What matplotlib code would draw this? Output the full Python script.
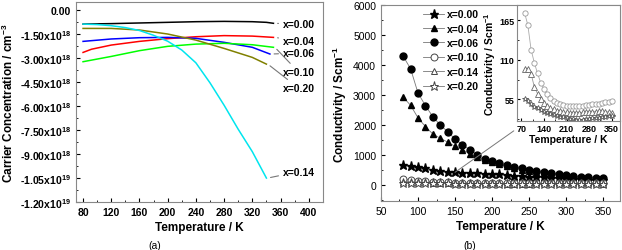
import numpy as np
import matplotlib
matplotlib.use('Agg')
import matplotlib.pyplot as plt
from matplotlib.ticker import MultipleLocator, FuncFormatter
from matplotlib.patches import ConnectionPatch

plt.rcParams['font.family'] = ['Liberation Sans', 'DejaVu Sans']
plt.rcParams['mathtext.fontset'] = 'custom'
plt.rcParams['mathtext.rm'] = 'Liberation Sans'
plt.rcParams['mathtext.bf'] = 'Liberation Sans:bold'
plt.rcParams['mathtext.default'] = 'bf'

""" (a) carrier concentration, units of 1e18 cm^-3 """
T_000 = [80, 120, 160, 200, 240, 280, 320, 340, 350]
n_000 = [-0.88, -0.85, -0.81, -0.77, -0.73, -0.71, -0.73, -0.77, -0.83]
T_004 = [80, 92, 120, 160, 200, 240, 280, 320, 350]
n_004 = [-2.65, -2.45, -2.19, -1.96, -1.79, -1.67, -1.60, -1.63, -1.71]
T_006 = [80, 120, 160, 200, 240, 280, 320, 345]
n_006 = [-1.96, -1.81, -1.73, -1.71, -1.77, -2.02, -2.33, -2.75]
T_010 = [80, 120, 160, 200, 240, 280, 320, 350]
n_010 = [-3.23, -2.90, -2.54, -2.27, -2.13, -2.08, -2.17, -2.33]
T_020 = [80, 120, 160, 200, 240, 280, 320, 340]
n_020 = [-1.15, -1.15, -1.25, -1.50, -1.88, -2.40, -2.96, -3.38]
T_014 = [80, 100, 120, 140, 160, 180, 200, 220, 240, 260, 280, 300, 320, 340]
n_014 = [-0.88, -0.91, -0.98, -1.10, -1.28, -1.58, -1.95, -2.50, -3.30, -4.55,
         -5.95, -7.45, -8.85, -10.50]

curves_a = [
    ('x=0.00', T_000, n_000, 'black', -0.88),
    ('x=0.04', T_004, n_004, '#ff0000', -1.94),
    ('x=0.06', T_006, n_006, '#0000ff', -2.69),
    ('x=0.10', T_010, n_010, '#00ff00', -3.88),
    ('x=0.20', T_020, n_020, '#808000', -4.88),
    ('x=0.14', T_014, n_014, '#00e5ee', -10.1),
]

""" (b) conductivity, S/cm """
T_b = list(range(80, 351, 10))
s_000 = [650, 610, 575, 540, 490, 450, 430, 410, 400, 390, 380, 370, 360, 340,
         320, 300, 290, 270, 260, 250, 230, 220, 210, 190, 180, 170, 160, 150]
s_004 = [2920, 2650, 2230, 1940, 1690, 1550, 1420, 1280, 1170, 1030, 920, 830, 740, 680,
         610, 550, 500, 460, 420, 380, 345, 320, 295, 265, 240, 220, 200, 185]
s_006 = [4290, 3870, 3060, 2640, 2270, 1990, 1770, 1520, 1330, 1165, 1000, 860, 780, 715,
         655, 580, 545, 500, 470, 415, 380, 355, 325, 300, 270, 250, 225, 215]
s_010 = [175, 158, 124, 106, 91, 78, 70, 63, 57, 53, 50, 48, 47, 46,
         46, 46, 46, 46, 46.5, 47, 47.5, 48, 48.5, 49, 50, 51, 52, 53]
s_014 = [97.6, 97.6, 90.7, 72.4, 63, 56, 50.4, 46, 43, 41, 39.5, 38.5, 37.5, 37,
         36.5, 36.5, 36.5, 36.5, 37, 37, 37.5, 38, 38, 38.5, 38.5, 38, 37.5, 36]
s_020 = [56, 52.7, 48, 45, 42.5, 40, 38, 36, 34.5, 33, 32, 31, 30, 29,
         28, 27.5, 27, 27, 27, 27.5, 28, 28.5, 29, 29.5, 30, 31, 31.5, 32]

fig = plt.figure(figsize=(6.22, 2.51), dpi=100)

# ---- panel (a)
ax1 = fig.add_axes([0.1222, 0.191, 0.3968, 0.797])
for lab, t, n, c, ly in curves_a:
    t = np.array(t)
    n = np.array(n) * 1e18
    ax1.plot(t, n, color=c, lw=1.1)
    ax1.annotate(lab, xy=(t[-1] + 2, n[-1]), xytext=(363, ly * 1e18),
                 fontsize=7.5, fontweight='bold', va='center', ha='left',
                 arrowprops=dict(arrowstyle='-', color='#777777', lw=0.8,
                                 shrinkA=1, shrinkB=2))

def conc_fmt(v, pos):
    if abs(v) < 1:
        return '0.00'
    e = int(np.floor(np.log10(abs(v))))
    m = v / 10 ** e
    return '%.2fx10$^{%d}$' % (m, e)

ax1.set_xlim(70, 420)
ax1.set_ylim(-1.2e19, 0.5e18)
ax1.xaxis.set_major_locator(MultipleLocator(40))
ax1.xaxis.set_minor_locator(MultipleLocator(20))
ax1.set_xticks(range(80, 401, 40))
ax1.yaxis.set_major_locator(MultipleLocator(1.5e18))
ax1.yaxis.set_minor_locator(MultipleLocator(0.75e18))
ax1.yaxis.set_major_formatter(FuncFormatter(conc_fmt))
ax1.yaxis.get_offset_text().set_visible(False)
ax1.tick_params(which='both', direction='in', labelsize=7.5)
ax1.tick_params(which='major', length=3)
ax1.tick_params(which='minor', length=1.5)
for lbl in ax1.get_xticklabels() + ax1.get_yticklabels():
    lbl.set_fontweight('bold')
ax1.set_xlabel('Temperature / K', fontsize=8.5, fontweight='bold', labelpad=3)
ax1.set_ylabel('Carrier Concentration / cm$^{-3}$', fontsize=8.5, fontweight='bold', labelpad=3)
for sp in ax1.spines.values():
    sp.set_color('#888888')

# ---- panel (b)
ax2 = fig.add_axes([0.6125, 0.195, 0.3845, 0.781])
line_c = '#777777'
ax2.plot(T_b, s_000, color=line_c, lw=0.6, marker='*', ms=6.5, mfc='black', mec='black', label='x=0.00')
ax2.plot(T_b, s_004, color=line_c, lw=0.6, marker='^', ms=5, mfc='black', mec='black', label='x=0.04')
ax2.plot(T_b, s_006, color=line_c, lw=0.6, marker='o', ms=5, mfc='black', mec='black', label='x=0.06')
ax2.plot(T_b, s_010, color=line_c, lw=0.6, marker='o', ms=5, mfc='white', mec='#444444', mew=0.7, label='x=0.10')
ax2.plot(T_b, s_014, color=line_c, lw=0.6, marker='^', ms=5, mfc='white', mec='#444444', mew=0.7, label='x=0.14')
ax2.plot(T_b, s_020, color=line_c, lw=0.6, marker='*', ms=6.5, mfc='white', mec='#444444', mew=0.7, label='x=0.20')
ax2.set_xlim(50, 373)
ax2.set_ylim(-550, 6000)
ax2.xaxis.set_major_locator(MultipleLocator(50))
ax2.xaxis.set_minor_locator(MultipleLocator(25))
ax2.yaxis.set_major_locator(MultipleLocator(1000))
ax2.yaxis.set_minor_locator(MultipleLocator(500))
ax2.tick_params(which='both', direction='in', labelsize=7.5)
ax2.tick_params(which='major', length=3)
ax2.tick_params(which='minor', length=1.5)
ax2.set_xlabel('Temperature / K', fontsize=8.5, fontweight='bold', labelpad=3)
ax2.set_ylabel('Conductivity / Scm$^{-1}$', fontsize=8.5, fontweight='bold', labelpad=3)
for sp in ax2.spines.values():
    sp.set_color('#888888')
leg = ax2.legend(loc='upper left', bbox_to_anchor=(0.15, 1.01), frameon=False,
                 fontsize=7.5, handlelength=2.0, labelspacing=0.42,
                 handletextpad=0.3, borderaxespad=0.2)
for txt in leg.get_texts():
    txt.set_fontweight('bold')

# inset
ax3 = fig.add_axes([0.831, 0.514, 0.166, 0.462])
ax3.plot(T_b, s_010, color='#aaaaaa', lw=0.6, marker='o', ms=3.8, mfc='white', mec='#999999', mew=0.6)
ax3.plot(T_b, s_014, color='#999999', lw=0.6, marker='^', ms=3.8, mfc='white', mec='#666666', mew=0.6)
ax3.plot(T_b, s_020, color='#888888', lw=0.6, marker='*', ms=4.3, mfc='white', mec='#555555', mew=0.6)
ax3.set_xlim(56, 376)
ax3.set_ylim(25, 186)
ax3.xaxis.set_major_locator(MultipleLocator(70))
ax3.xaxis.set_minor_locator(MultipleLocator(35))
ax3.yaxis.set_major_locator(MultipleLocator(55))
ax3.yaxis.set_minor_locator(MultipleLocator(27.5))
ax3.tick_params(which='both', direction='in', labelsize=6.5, pad=2)
ax3.tick_params(which='major', length=2.5)
ax3.tick_params(which='minor', length=1.5)
for lbl in ax3.get_xticklabels() + ax3.get_yticklabels():
    lbl.set_fontweight('bold')
ax3.set_xlabel('Temperature / K', fontsize=7.5, fontweight='bold', labelpad=1)
ax3.set_ylabel('Conductivity / Scm$^{-1}$', fontsize=7.5, fontweight='bold', labelpad=1)
for sp in ax3.spines.values():
    sp.set_color('#888888')

con = ConnectionPatch(xyA=(150, s_000[7]), coordsA=ax2.transData,
                      xyB=(-0.03, -0.085), coordsB=ax3.transAxes,
                      color='#777777', lw=0.7)
fig.add_artist(con)

fig.text(0.249, 0.02, '(a)', fontsize=7.5, ha='center', va='center')
fig.text(0.756, 0.02, '(b)', fontsize=7.5, ha='center', va='center')

plt.savefig('out.png', dpi=100)
